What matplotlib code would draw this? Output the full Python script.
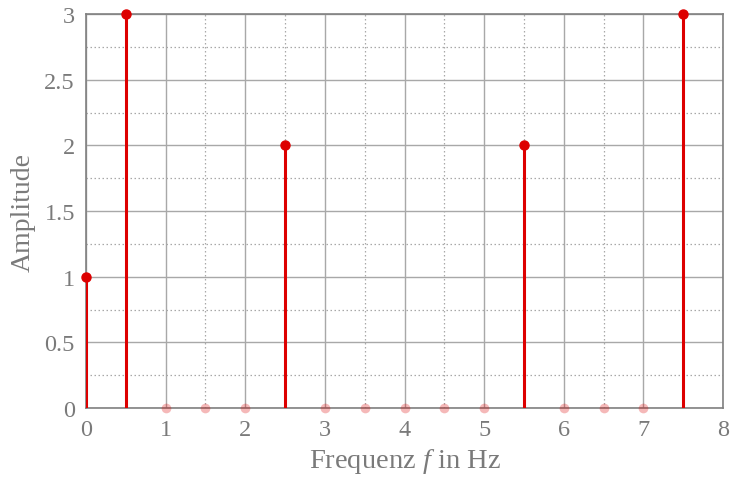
import matplotlib
matplotlib.use("Agg")
from matplotlib import pyplot as plt
from matplotlib.ticker import MultipleLocator

# stem data (frequency in Hz, amplitude)
freqs = [0, 0.5, 2.5, 5.5, 7.5]
amps = [1, 3, 2, 2, 3]
# frequencies with zero amplitude (faded dots)
zero_freqs = [1, 1.5, 2, 3, 3.5, 4, 4.5, 5, 6, 6.5, 7]
zero_amps = [0] * len(zero_freqs)

x_ticks = [0, 1, 2, 3, 4, 5, 6, 7, 8]
y_ticks = [0, 0.5, 1, 1.5, 2, 2.5, 3]
y_labels = ["0", "0.5", "1", "1.5", "2", "2.5", "3"]

plt.rcParams['font.family'] = ['Liberation Serif', 'DejaVu Serif']
plt.rcParams['mathtext.fontset'] = 'custom'
plt.rcParams['mathtext.it'] = 'Liberation Serif:italic'
plt.rcParams['mathtext.rm'] = 'Liberation Serif'

textgray = '#7a7a7a'
red = '#dd0000'

fig = plt.figure(figsize=(7.32, 4.85), dpi=100)
ax = fig.add_axes([86/732, 1 - 409/485, (723 - 86)/732, (409 - 15)/485])

ax.set_xlim(0, 8)
ax.set_ylim(0, 3)
ax.set_xticks(x_ticks)
ax.set_yticks(y_ticks)
ax.set_yticklabels(y_labels)
ax.xaxis.set_minor_locator(MultipleLocator(0.5))
ax.yaxis.set_minor_locator(MultipleLocator(0.25))
ax.grid(which='major', color='#a8a8a8', linewidth=1.0, linestyle='-')
ax.grid(which='minor', color='#a8a8a8', linewidth=0.9, linestyle=(0, (1.2, 2)))
ax.set_axisbelow(True)
ax.tick_params(which='both', length=0, labelsize=17.5, colors=textgray, pad=8)

for s in ax.spines.values():
    s.set_color('#808080')
    s.set_linewidth(1.2)

ax.vlines(freqs, 0, amps, color=red, linewidth=2.2, zorder=3)
ax.plot(freqs, amps, 'o', color=red, markersize=6.5, zorder=4, clip_on=False)
ax.plot(zero_freqs, zero_amps, 'o', color=red, alpha=0.28, markersize=7,
        markeredgewidth=0, zorder=4, clip_on=False)

ax.set_xlabel('Frequenz $f$ in Hz', fontsize=20.5, color=textgray, labelpad=4)
ax.set_ylabel('Amplitude', fontsize=20, color=textgray, labelpad=6)

fig.savefig('out.png', dpi=100)
